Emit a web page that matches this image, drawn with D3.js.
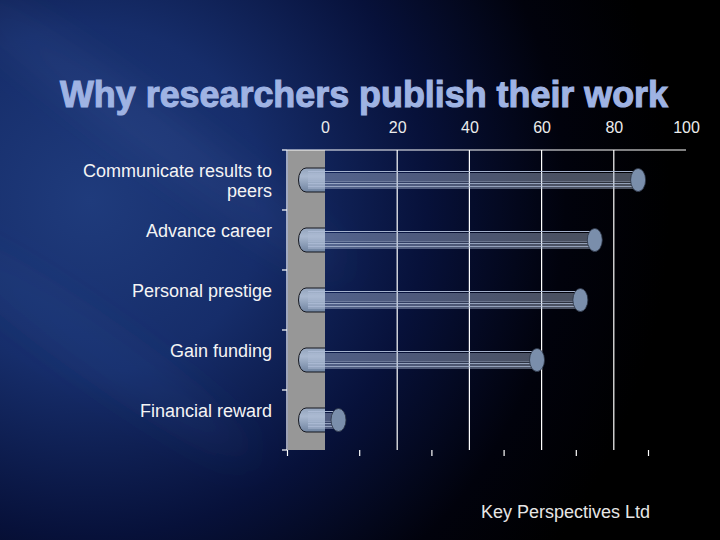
<!DOCTYPE html>
<html>
<head>
<meta charset="utf-8">
<script src="https://cdn.jsdelivr.net/npm/d3@7"></script>
<style>
  html, body { margin: 0; padding: 0; background: #000; }
  svg { display: block; }
</style>
</head>
<body>
<div id="chart"></div>
<script>
// Chart data
const title = 'Why researchers publish their work';
const source = 'Key Perspectives Ltd';
const categories = ['Communicate results to peers', 'Advance career', 'Personal prestige', 'Gain funding', 'Financial reward'];
const values = [92, 80, 76, 64, 9];
const tickValues = [0, 20, 40, 60, 80, 100];

const W = 720, H = 540;
const depth = 38;          // 3D depth offset of the bar chart (px)
const plot = { left: 325, right: 686, top: 150, bottom: 450 };

const svg = d3.select('#chart').append('svg')
    .attr('width', W).attr('height', H)
    .attr('viewBox', `0 0 ${W} ${H}`);

const defs = svg.append('defs');

// Background gradient: blue upper-left, fading to black
const bg = defs.append('radialGradient').attr('id', 'bg')
    .attr('gradientUnits', 'userSpaceOnUse')
    .attr('cx', 90).attr('cy', 200).attr('r', 580);
bg.append('stop').attr('offset', 0).attr('stop-color', '#1f3b7c');
bg.append('stop').attr('offset', 0.3).attr('stop-color', '#162d6a');
bg.append('stop').attr('offset', 0.58).attr('stop-color', '#07113a');
bg.append('stop').attr('offset', 0.82).attr('stop-color', '#01020c');
bg.append('stop').attr('offset', 1).attr('stop-color', '#000000');

const blur = defs.append('filter').attr('id', 'blur')
    .attr('x', '-50%').attr('y', '-50%').attr('width', '200%').attr('height', '200%');
blur.append('feGaussianBlur').attr('stdDeviation', 20);

// cylinder start (inside the grey floor)
const capGrad = defs.append('linearGradient').attr('id', 'capGrad')
    .attr('x1', 0).attr('y1', 0).attr('x2', 0).attr('y2', 1);
capGrad.append('stop').attr('offset', 0).attr('stop-color', '#93a4bd');
capGrad.append('stop').attr('offset', 0.35).attr('stop-color', '#a9b8cf');
capGrad.append('stop').attr('offset', 1).attr('stop-color', '#6f83a0');

svg.append('rect').attr('width', W).attr('height', H).attr('fill', 'url(#bg)');

// soft diagonal light streaks
const streaks = svg.append('g').attr('filter', 'url(#blur)');
streaks.append('ellipse')
    .attr('cx', 150).attr('cy', 130).attr('rx', 240).attr('ry', 22)
    .attr('transform', 'rotate(36 150 130)')
    .attr('fill', '#5a78c0').attr('opacity', 0.14);
streaks.append('ellipse')
    .attr('cx', 100).attr('cy', 350).attr('rx', 190).attr('ry', 20)
    .attr('transform', 'rotate(35 100 350)')
    .attr('fill', '#4a68b0').attr('opacity', 0.14);

// Scales
const x = d3.scaleLinear().domain([0, 100]).range([plot.left, plot.right]);
const y = d3.scaleBand().domain(categories).range([plot.top, plot.bottom]).padding(0);

// Title
svg.append('text')
    .attr('x', 364).attr('y', 107)
    .attr('text-anchor', 'middle')
    .attr('textLength', 608)
    .attr('lengthAdjust', 'spacingAndGlyphs')
    .style('font-family', '"Liberation Sans", Arial, sans-serif')
    .style('font-weight', 700)
    .style('font-size', '37px')
    .attr('fill', '#9fb3e3')
    .attr('stroke', '#9fb3e3').attr('stroke-width', 1.1)
    .text(title);

// Grey floor wall (depth side)
svg.append('rect')
    .attr('x', plot.left - depth + 1).attr('y', plot.top)
    .attr('width', depth - 1).attr('height', plot.bottom - plot.top)
    .attr('fill', '#979797');

// Gridlines (back plane)
svg.append('g')
    .selectAll('line')
    .data(tickValues.filter(d => d > 0 && d < 100))
    .join('line')
    .attr('x1', d => x(d)).attr('x2', d => x(d))
    .attr('y1', plot.top).attr('y2', plot.bottom)
    .attr('stroke', '#ffffff').attr('stroke-width', 1.2);

// top border
svg.append('line')
    .attr('x1', plot.left - depth).attr('x2', plot.right)
    .attr('y1', plot.top).attr('y2', plot.top)
    .attr('stroke', '#ffffff').attr('stroke-width', 1.2);

// value labels on top (back plane)
const topAxis = d3.axisTop(x).tickValues(tickValues).tickSize(0).tickPadding(0);
const gTop = svg.append('g').attr('transform', 'translate(0,133)').call(topAxis);
gTop.select('.domain').remove();
gTop.selectAll('text')
    .attr('dy', 0)
    .attr('fill', '#ececec')
    .style('font-family', '"Liberation Sans", Arial, sans-serif')
    .style('font-size', '16px');

// bottom ticks (front plane)
const xFront = x.copy().range([plot.left - depth, plot.right - depth]);
const gBottom = svg.append('g').attr('transform', `translate(0,${plot.bottom})`)
    .call(d3.axisBottom(xFront).tickValues(tickValues).tickSize(6).tickFormat(''));
gBottom.select('.domain').remove();
gBottom.selectAll('line').attr('stroke', '#ffffff').attr('stroke-width', 1.2);

// left category axis
const gLeft = svg.append('g').attr('transform', `translate(${plot.left - depth},0)`);
gLeft.append('line')
    .attr('x1', 0).attr('x2', 0).attr('y1', plot.top).attr('y2', plot.bottom)
    .attr('stroke', '#ffffff').attr('stroke-width', 1.2);
const bounds = categories.map(c => y(c)).concat([plot.bottom]);
gLeft.selectAll('line.tick')
    .data(bounds)
    .join('line')
    .attr('class', 'tick')
    .attr('x1', -5).attr('x2', 0)
    .attr('y1', d => d).attr('y2', d => d)
    .attr('stroke', '#ffffff').attr('stroke-width', 1.2);

// wrap long category names
function wrap(label, maxChars) {
    const words = label.split(' ');
    const lines = [];
    let cur = '';
    words.forEach(w => {
        const next = cur ? cur + ' ' + w : w;
        if (next.length > maxChars && cur) { lines.push(cur); cur = w; }
        else cur = next;
    });
    if (cur) lines.push(cur);
    return lines;
}

svg.append('g')
    .selectAll('text')
    .data(categories)
    .join('text')
    .attr('text-anchor', 'end')
    .attr('fill', '#f4f4f4')
    .style('font-family', '"Liberation Sans", Arial, sans-serif')
    .style('font-size', '18px')
    .each(function(d) {
        const cy = y(d) + y.bandwidth() / 2;
        d3.select(this).selectAll('tspan')
            .data(wrap(d, 22))
            .join('tspan')
            .attr('x', 272)
            .attr('y', (t, i) => cy - 3 + i * 20)
            .text(t => t);
    });

// Cylinders (drawn at mid depth)
const mid = depth / 2;
const ry = 12, rx = 7.5;
const stripeOffsets = [-8.5, -6, -4, -2, 0, 1.8, 3.5, 5, 6.5, 8];

const bars = svg.append('g')
    .selectAll('g.bar')
    .data(categories.map((c, i) => ({ cat: c, value: values[i] })))
    .join('g')
    .attr('class', 'bar')
    .attr('transform', d => `translate(0,${y(d.cat) + y.bandwidth() / 2})`);

// start of cylinder, sitting in the grey floor
bars.append('path')
    .attr('d', () => {
        const x0 = x(0) - mid, xw = x(0);
        return `M${xw},${-ry} L${x0},${-ry} A${rx},${ry} 0 0 0 ${x0},${ry} L${xw},${ry}`;
    })
    .attr('fill', 'url(#capGrad)')
    .attr('stroke', '#15171f').attr('stroke-width', 1);

// striped body
bars.each(function(d) {
    const g = d3.select(this);
    const x0 = x(0) - mid + 2;
    const x1 = x(d.value) - mid;
    g.selectAll('line.stripe')
        .data(stripeOffsets)
        .join('line')
        .attr('class', 'stripe')
        .attr('x1', x0).attr('x2', x1)
        .attr('y1', o => o).attr('y2', o => o)
        .attr('stroke', '#aebcd6')
        .attr('stroke-opacity', (o, i) => (i === 0 ? 0.95 : 0.85))
        .attr('stroke-width', 1);
});

// end cap
bars.append('ellipse')
    .attr('cx', d => x(d.value) - mid)
    .attr('cy', 0)
    .attr('rx', rx).attr('ry', ry - 0.5)
    .attr('fill', '#7a8eab')
    .attr('stroke', '#2b3444').attr('stroke-width', 0.8);

// Source note
svg.append('text')
    .attr('x', 481).attr('y', 518)
    .attr('fill', '#e6e6e6')
    .style('font-family', '"Liberation Sans", Arial, sans-serif')
    .style('font-size', '18px')
    .text(source);
</script>
</body>
</html>
